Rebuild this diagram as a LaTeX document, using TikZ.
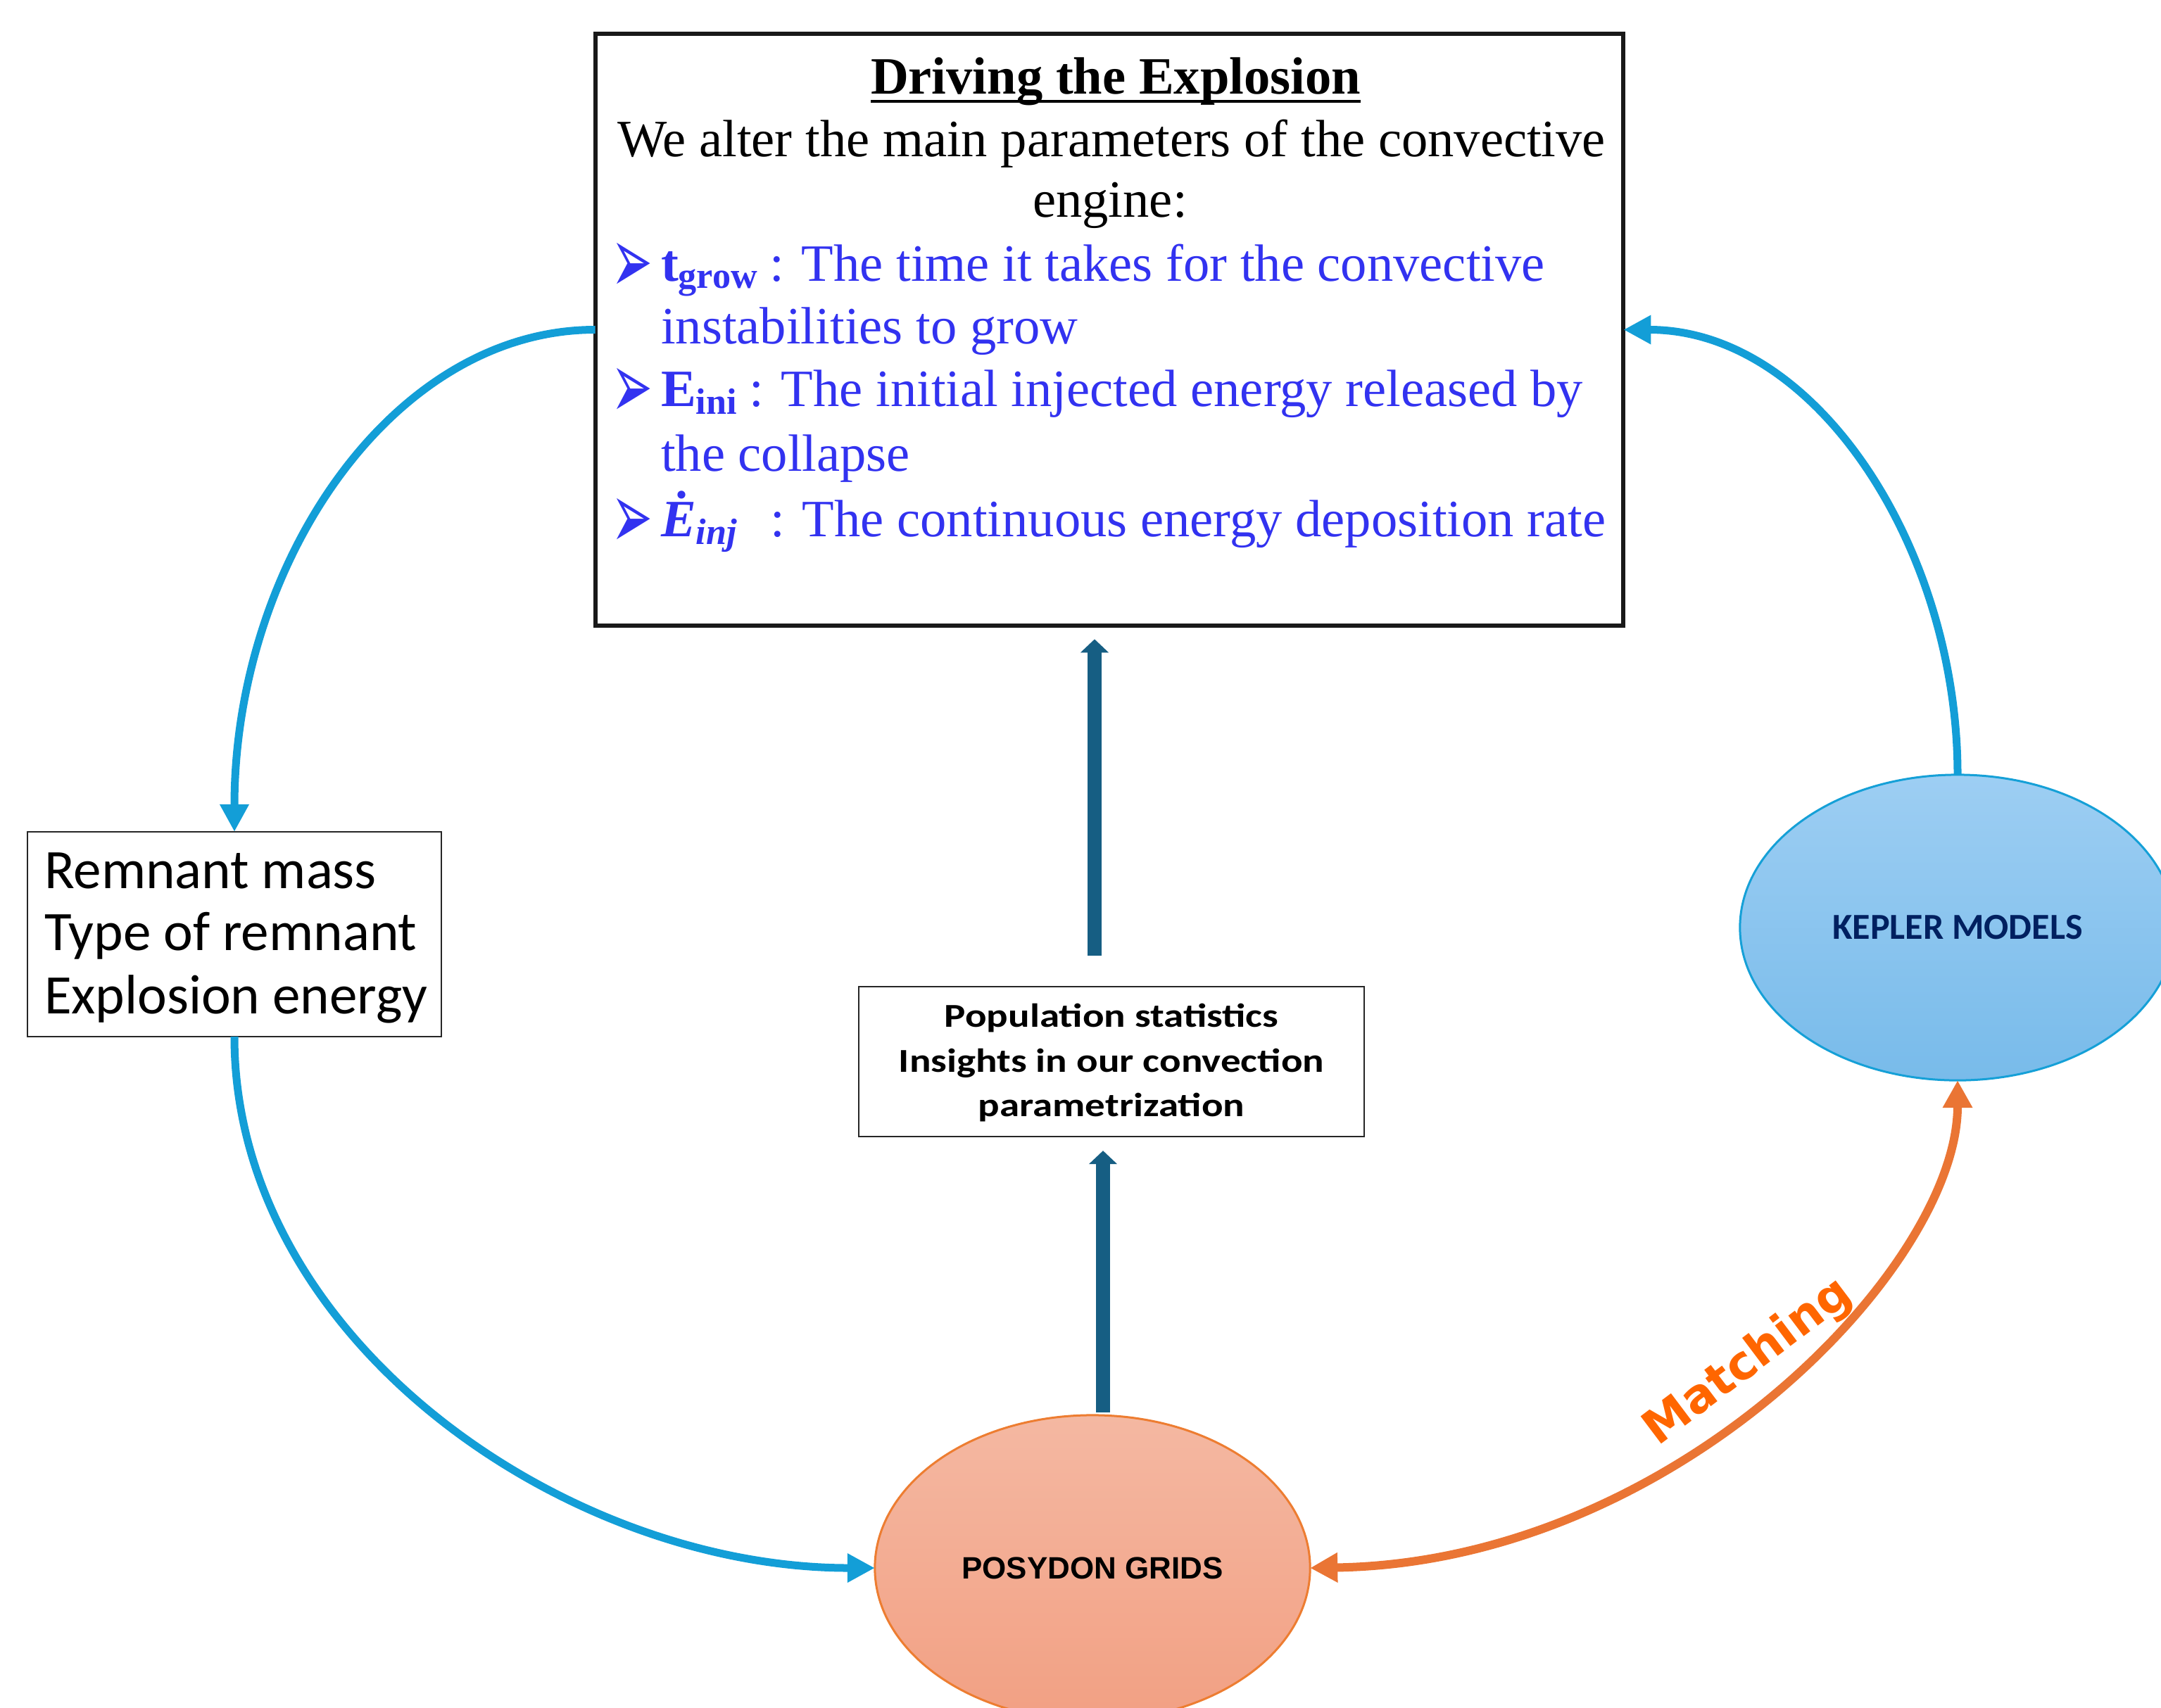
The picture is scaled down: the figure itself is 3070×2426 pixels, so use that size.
\documentclass[tikz,border=0pt]{standalone}
\usepackage{fontspec}
\setmainfont{Liberation Serif}
\newfontfamily\calfont{Carlito}
\newfontfamily\calwide[FakeStretch=1.2]{Carlito}
\newfontfamily\arialfont{Liberation Sans}
\newfontfamily\dejafont{DejaVu Sans}
\usetikzlibrary{arrows.meta,shapes.geometric}
\definecolor{txtblue}{RGB}{50,50,240}
\definecolor{arrowblue}{RGB}{19,158,215}
\definecolor{tealc}{RGB}{22,94,131}
\definecolor{arroworange}{RGB}{234,117,52}
\definecolor{matchc}{RGB}{255,102,0}
\definecolor{keptop}{RGB}{157,206,243}
\definecolor{kepbot}{RGB}{120,187,234}
\definecolor{kepedge}{RGB}{21,160,215}
\definecolor{keptext}{RGB}{0,32,96}
\definecolor{postop}{RGB}{244,184,162}
\definecolor{posbot}{RGB}{242,160,131}
\definecolor{posedge}{RGB}{237,125,49}
\newcommand{\arrbullet}{\raisebox{-0.17cm}{\scalebox{1}[1.9]{➢}}}
\begin{document}
\begin{tikzpicture}[x=0.01cm, y=-0.01cm,
  every node/.style={inner sep=0pt, outer sep=0pt},
  mainbox/.style={draw=black!90, line width=0.06cm, minimum width=14.6cm, minimum height=8.41cm},
  thinbox/.style={draw=black!85, line width=0.025cm},
  serif/.style={font=\fontsize{21.2}{25}\selectfont},
  bluetxt/.style={serif, text=txtblue, anchor=base west},
  bul/.style={text=txtblue, anchor=base west, font=\dejafont\fontsize{20}{24}\selectfont},
  reslbl/.style={anchor=base west, font=\calfont\fontsize{22.5}{26}\selectfont},
  midlbl/.style={anchor=base, font=\calwide\bfseries\fontsize{13.5}{16}\selectfont},
  ell/.style={ellipse, line width=0.03cm, minimum width=6.18cm, minimum height=4.34cm},
  bluearrow/.style={draw=arrowblue, line width=0.11cm, -{Triangle[length=0.39cm,width=0.39cm]}},
  orangearrow/.style={draw=arroworange, line width=0.12cm, {Triangle[length=0.39cm,width=0.40cm]}-{Triangle[length=0.39cm,width=0.40cm]}},
  tealarrow/.style={draw=tealc, line width=0.2cm, -{Triangle[length=0.19cm,width=0.39cm]}}
]
\useasboundingbox (0,0) rectangle (3070,2426);
\clip (0,0) rectangle (3070,2426);

% main box
\node[mainbox] (top) at (1576,468.5) {};
\node[serif, font=\bfseries\fontsize{21.2}{25}\selectfont, anchor=base] (title) at (1585,133) {Driving the Explosion};
\draw[line width=0.035cm] ([yshift=-0.11cm]title.base west) -- ([yshift=-0.11cm]title.base east);
\node[serif, anchor=base] (intro1) at (1579,222) {We alter the main parameters of the convective};
\node[serif, anchor=base] (intro2) at (1577,308) {engine:};
\node[bul] (b1) at (868,399) {\arrbullet};
\node[bluetxt] (l1) at (939,399) {\textbf{t}\textsubscript{\textbf{grow}}\hspace{-0.03cm} : The time it takes for the convective};
\node[bluetxt] (l2) at (939,488) {instabilities to grow};
\node[bul] (b2) at (868,577) {\arrbullet};
\node[bluetxt] (l3) at (939,577) {\textbf{E}\textsubscript{\textbf{ini}}\hspace{-0.03cm} : The initial injected energy released by};
\node[bluetxt] (l4) at (939,669) {the collapse};
\node[bul] (b3) at (868,762) {\arrbullet};
\node[bluetxt] (l5) at (939,762) {\textbf{\textit{Ė}}\textsubscript{\textbf{\textit{inj}}}\hspace{0.27cm} : The continuous energy deposition rate};

% left result box
\node[thinbox, minimum width=5.88cm, minimum height=2.91cm] (res) at (333,1327.5) {};
\node[reslbl] (r1) at (63,1262) {Remnant mass};
\node[reslbl] (r2) at (63,1350) {Type of remnant};
\node[reslbl] (r3) at (63,1440) {Explosion energy};

% middle box
\node[thinbox, minimum width=7.18cm, minimum height=2.13cm] (mid) at (1579,1508.5) {};
\node[midlbl] (m1) at (1579,1459) {Population statistics};
\node[midlbl] (m2) at (1579,1523) {Insights in our convection};
\node[midlbl] (m3) at (1579,1586) {parametrization};

% ellipses
\node[ell, draw=kepedge, top color=keptop, bottom color=kepbot, text=keptext,
      font=\calfont\bfseries\fontsize{14.8}{17}\selectfont] (kep) at (2781,1318) {KEPLER MODELS};
\node[ell, draw=posedge, top color=postop, bottom color=posbot, text=black,
      font=\arialfont\bfseries\fontsize{12.5}{15}\selectfont] (pos) at (1552,2228) {POSYDON GRIDS};

% curved connectors
\draw[bluearrow] (top.west) .. controls +(-288,0) and +(0,-381) .. (res.north);
\draw[bluearrow] (res.south) .. controls +(0,429) and +(-441,0) .. (pos.west);
\draw[bluearrow] (kep.north) .. controls +(0,-321) and +(274,0) .. (top.east);
\draw[orangearrow] (pos.east) .. controls +(518,-8) and +(0,264) .. (kep.south);
\node[rotate=37, text=matchc, font=\dejafont\bfseries\fontsize{19}{22}\selectfont] (match) at (2484,1936) {Matching};

% teal straight arrows
\coordinate (t1) at ([xshift=-0.24cm]mid.north);
\draw[tealarrow, shorten <=0.44cm, shorten >=0.19cm] (t1) -- (t1 |- top.south);
\coordinate (t2) at ([xshift=0.15cm]pos.north);
\draw[tealarrow, shorten <=0.04cm, shorten >=0.2cm] (t2) -- (t2 |- mid.south);
\end{tikzpicture}
\end{document}
